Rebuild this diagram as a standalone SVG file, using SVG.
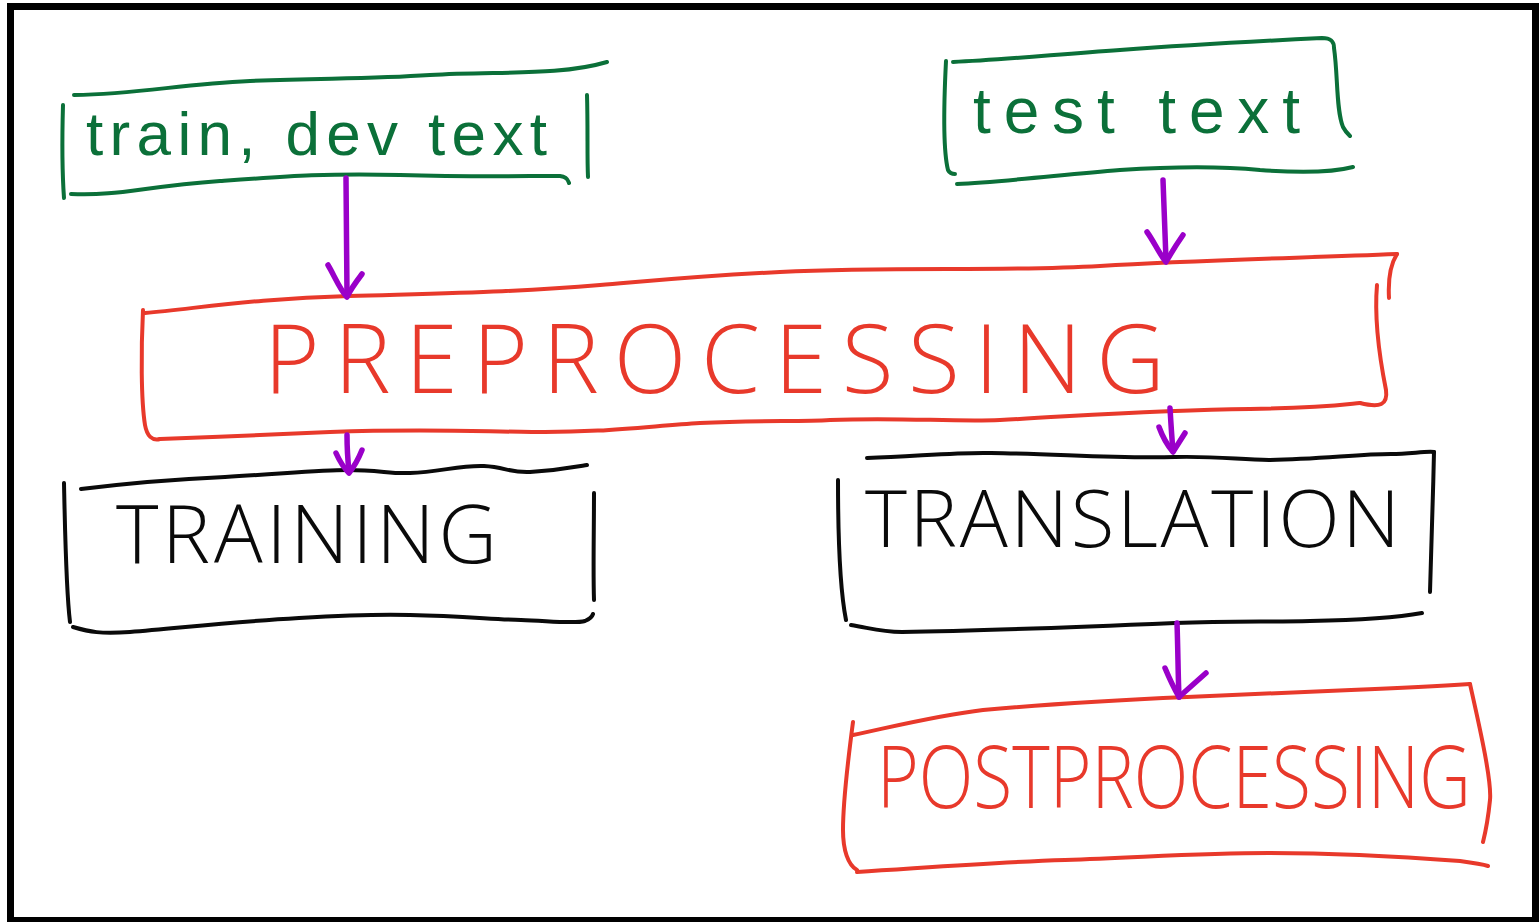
<svg xmlns="http://www.w3.org/2000/svg" width="1539" height="922" viewBox="0 0 1539 922">
  <defs>
    <style>
      .pen { fill: none; stroke-linecap: round; stroke-linejoin: round; }
      .green { stroke: #0b7039; stroke-width: 4; }
      .red { stroke: #e8392b; stroke-width: 4; }
      .black { stroke: #0a0a0a; stroke-width: 4; }
      .arrow { fill: none; stroke: #9a00c9; stroke-width: 5.5; stroke-linecap: round; stroke-linejoin: round; }
      .lower { font-family: "Liberation Sans", "DejaVu Sans", sans-serif; fill: #0b7039; }
      .caps { font-family: "Open Sans", "Liberation Sans", sans-serif; font-weight: 300; }
      .caps-red { fill: #e8392b; }
      .caps-black { fill: #0a0a0a; }
    </style>
  </defs>

  <!-- page and frame -->
  <rect x="0" y="0" width="1539" height="922" fill="#ffffff"/>
  <rect x="10.5" y="6.5" width="1525" height="914" fill="#ffffff" stroke="#000000" stroke-width="7"/>

  <!-- source: train, dev text -->
  <g id="train-dev-text">
    <path class="pen green" d="M74,95 C140,94 180,84 250,81 C330,78 370,79 430,75 C500,71 560,76 607,62"/>
    <path class="pen green" d="M63,105 C62,140 62,170 64,198"/>
    <path class="pen green" d="M71,194 C120,196 140,187 220,181 C290,176 330,173 400,175 C470,177 520,176 560,176 C568,177 568,181 569,183"/>
    <path class="pen green" d="M587,95 C588,130 587,155 588,177"/>
    <text class="lower" x="86" y="155" font-size="62" textLength="461" lengthAdjust="spacing">train, dev text</text>
  </g>

  <!-- source: test text -->
  <g id="test-text">
    <path class="pen green" d="M953,62 C1000,60 1050,55 1120,50 C1200,44 1260,41 1322,38 C1332,38 1334,42 1334,48 C1338,75 1336,110 1343,127 C1345,131 1348,134 1350,136"/>
    <path class="pen green" d="M946,61 C944,100 943,150 948,170 Q950,174 955,174"/>
    <path class="pen green" d="M957,184 C1000,182 1060,175 1120,170 C1180,166 1220,166 1260,170 C1300,173 1330,173 1353,167"/>
    <text class="lower" x="973" y="133" font-size="64" textLength="327" lengthAdjust="spacing">test text</text>
  </g>

  <!-- preprocessing stage -->
  <g id="preprocessing">
    <path class="pen red" d="M145,313 C200,308 260,298 349,296 C450,293 520,292 600,285 C660,280 700,276 780,272 C900,266 1000,272 1100,266 C1200,260 1300,258 1397,254"/>
    <path class="pen red" d="M1397,254 C1390,265 1388,280 1389,298"/>
    <path class="pen red" d="M1377,285 C1374,320 1380,360 1386,390 C1388,405 1380,408 1360,403"/>
    <path class="pen red" d="M143,310 C141,350 141,400 145,425 C147,436 152,441 160,439"/>
    <path class="pen red" d="M160,439 C220,437 250,435 330,432 C420,429 460,431 532,432 C600,433 650,426 700,423 C760,420 800,422 830,420 C900,417 950,422 1000,420 C1080,416 1150,410 1250,409 C1320,408 1340,405 1360,403"/>
    <text class="caps caps-red" x="264" y="393" font-size="95" textLength="901" lengthAdjust="spacing">PREPROCESSING</text>
  </g>

  <!-- training stage -->
  <g id="training">
    <path class="pen black" d="M81,489 C130,483 180,479 225,477 C280,474 320,470 347,470 C380,470 390,474 410,473 C440,472 460,465 484,466 C505,467 510,473 530,472 C560,470 575,467 587,465"/>
    <path class="pen black" d="M64,483 C65,530 66,590 70,622"/>
    <path class="pen black" d="M73,627 C90,632 100,634 130,632 C180,628 230,622 299,618 C350,615 380,614 410,615 C460,616 490,619 521,620 C550,621 575,624 585,621 C590,619 592,617 593,614"/>
    <path class="pen black" d="M594,493 C594,530 593,570 594,600"/>
    <text class="caps caps-black" x="116" y="563" font-size="81" textLength="381" lengthAdjust="spacing">TRAINING</text>
  </g>

  <!-- translation stage -->
  <g id="translation">
    <path class="pen black" d="M867,458 C920,456 960,452 991,453 C1060,454 1120,459 1175,457 C1220,456 1240,460 1269,460 C1320,459 1360,454 1391,454 C1410,454 1425,451 1434,452"/>
    <path class="pen black" d="M1434,452 C1433,500 1431,550 1430,592"/>
    <path class="pen black" d="M838,480 C838,540 840,590 846,620"/>
    <path class="pen black" d="M851,625 C870,628 880,632 902,632 C980,631 1080,627 1175,623 C1230,621 1270,622 1310,621 C1360,620 1400,617 1422,613"/>
    <text class="caps caps-black" x="865" y="547" font-size="80" textLength="535" lengthAdjust="spacing">TRANSLATION</text>
  </g>

  <!-- postprocessing stage -->
  <g id="postprocessing">
    <path class="pen red" d="M853,735 C900,725 940,715 983,710 C1060,703 1120,700 1187,697 C1260,694 1310,692 1351,690 C1400,688 1440,686 1470,684"/>
    <path class="pen red" d="M1470,684 C1478,720 1492,780 1490,800 C1488,820 1486,830 1483,842"/>
    <path class="pen red" d="M853,722 C848,760 843,800 843,830 C843,850 848,865 857,870"/>
    <path class="pen red" d="M857,872 C950,866 1000,862 1065,860 C1150,857 1200,853 1269,853 C1350,853 1420,858 1460,861 C1475,863 1482,864 1488,866"/>
    <text class="caps caps-red" transform="translate(877,808) scale(0.83,1)" x="0" y="0" font-size="86">POSTPROCESSING</text>
  </g>

  <!-- connectors -->
  <g id="connectors">
    <path class="arrow" d="M346,178 C346,220 347,260 347,295"/>
    <path class="arrow" d="M328,265 C334,275 340,290 347,297 M362,274 C356,282 350,290 347,297"/>
    <path class="arrow" d="M1163,180 C1164,210 1165,240 1166,260"/>
    <path class="arrow" d="M1147,232 C1153,240 1160,255 1166,262 M1183,235 C1176,245 1170,255 1166,262"/>
    <path class="arrow" d="M347,435 C347,450 348,462 349,472"/>
    <path class="arrow" d="M336,453 C340,462 345,469 349,473 M362,450 C358,460 353,468 349,473"/>
    <path class="arrow" d="M1170,408 C1171,425 1172,440 1173,451"/>
    <path class="arrow" d="M1159,427 C1163,438 1168,446 1173,452 M1185,433 C1180,441 1176,447 1173,452"/>
    <path class="arrow" d="M1177,623 C1178,650 1178,675 1179,697"/>
    <path class="arrow" d="M1165,668 C1170,680 1175,690 1179,697 M1206,673 C1196,682 1187,690 1179,697"/>
  </g>
</svg>
